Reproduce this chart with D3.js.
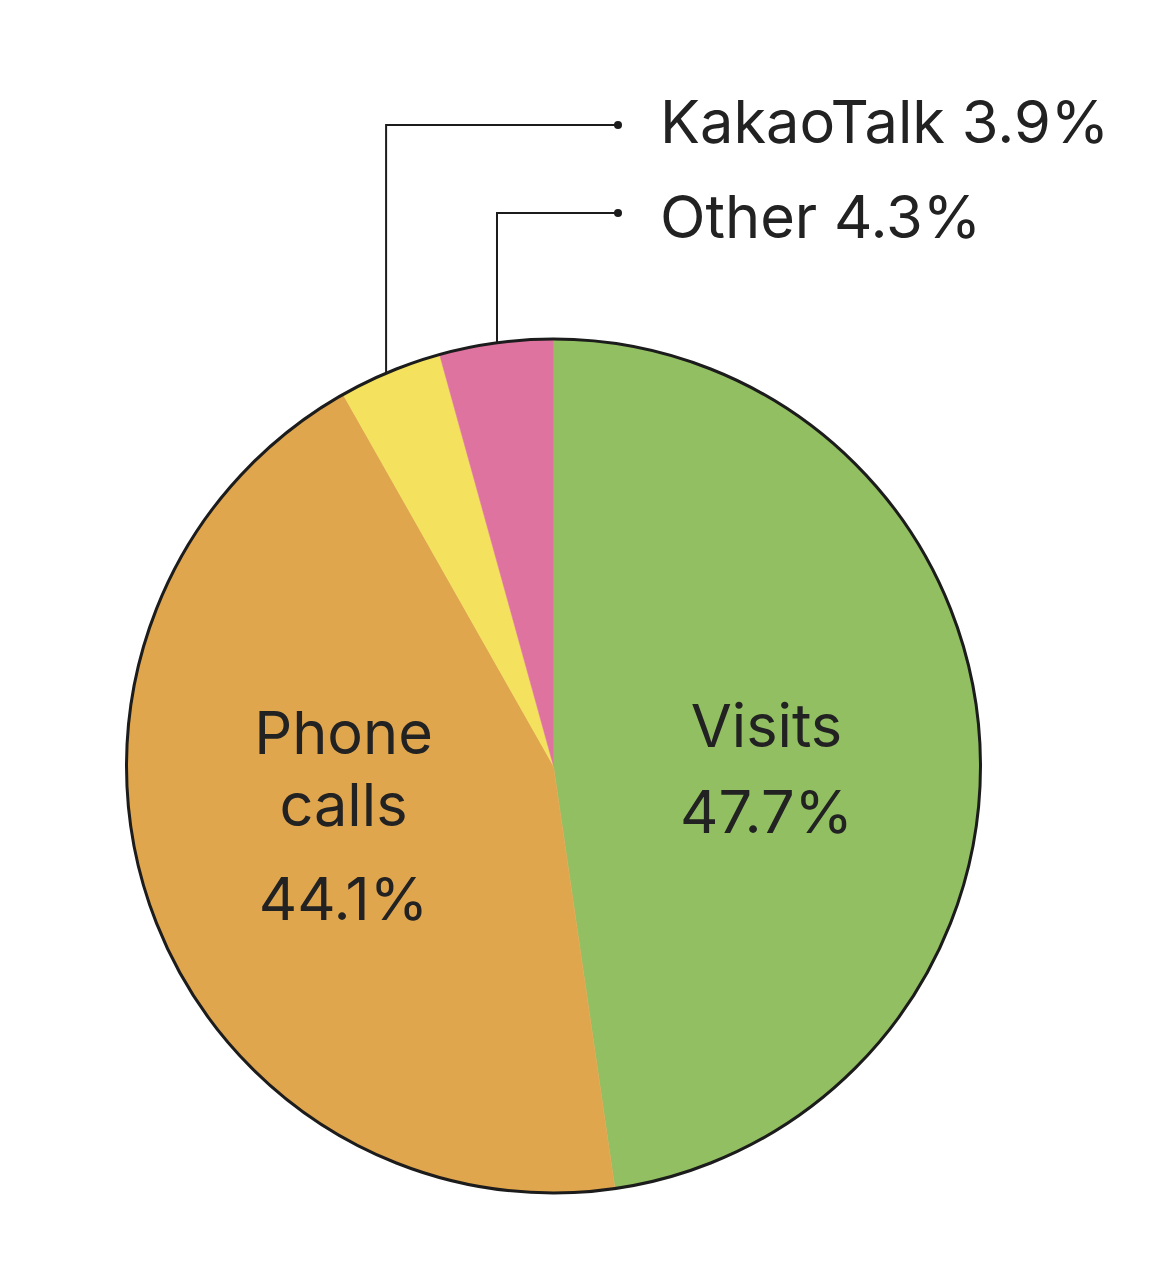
<!DOCTYPE html>
<html>
<head>
<meta charset="utf-8">
<script src="https://cdn.jsdelivr.net/npm/d3@7"></script>
<style>
  body { margin: 0; background: #fff; }
  text { font-family: Inter, Roboto, "Noto Sans", sans-serif; fill: #222; }
</style>
</head>
<body>
<div class="container"></div>
<script>
var categories = ['Visits', 'Phone calls', 'KakaoTalk', 'Other'];
var shares = [47.7, 44.1, 3.9, 4.3];
var colors = ['#92bf62', '#e0a64e', '#f4e25e', '#df739f'];
var shareLabels = ['47.7%', '44.1%', '3.9%', '4.3%'];

var drawChart = function () {
    const WIDTH = 1176;
    const HEIGHT = 1268;
    const CX = 553.5;
    const CY = 766;
    const RADIUS = 427;
    const FONT = '59.5px';

    var svg = d3.select('.container')
        .append('svg')
        .attr('width', WIDTH)
        .attr('height', HEIGHT);

    var pie = d3.pie().sort(null).value(function (d) { return d; });
    var arcs = pie(shares);
    var arc = d3.arc().innerRadius(0).outerRadius(RADIUS);

    var g = svg.append('g').attr('transform', 'translate(' + CX + ',' + CY + ')');

    g.selectAll('path.slice')
        .data(arcs)
        .enter()
        .append('path')
        .attr('class', 'slice')
        .attr('d', arc)
        .style('fill', function (d, i) { return colors[i]; })
        .style('stroke', function (d, i) { return colors[i]; })
        .style('stroke-width', 0.5);

    g.append('circle')
        .attr('r', RADIUS)
        .style('fill', 'none')
        .style('stroke', '#1c1c1c')
        .style('stroke-width', 3);

    // labels inside the big slices
    var inside = [
        { i: 0, x: 213, lines: [['Visits', -19], [null, 67]] },
        { i: 1, x: -210, lines: [['Phone', -12], ['calls', 60], [null, 154]] }
    ];
    inside.forEach(function (o) {
        o.lines.forEach(function (l) {
            g.append('text')
                .attr('x', o.x)
                .attr('y', l[1])
                .attr('text-anchor', 'middle')
                .style('font-size', FONT)
                .text(l[0] === null ? shareLabels[o.i] : l[0]);
        });
    });

    // leader lines for the small slices
    var callouts = [
        { i: 2, y: 125 - CY, baseline: 143 - CY, nudge: -4 },
        { i: 3, y: 213 - CY, baseline: 238 - CY, nudge: 1 }
    ];
    const DOT_X = 618 - CX;
    callouts.forEach(function (c) {
        var a = (arcs[c.i].startAngle + arcs[c.i].endAngle) / 2;
        var x = RADIUS * Math.sin(a) + c.nudge;
        var yEdge = -Math.sqrt(RADIUS * RADIUS - x * x);
        g.append('path')
            .attr('d', 'M' + x + ',' + yEdge + 'V' + c.y + 'H' + DOT_X)
            .style('fill', 'none')
            .style('stroke', '#1c1c1c')
            .style('stroke-width', 2);
        g.append('circle')
            .attr('cx', DOT_X)
            .attr('cy', c.y)
            .attr('r', 4)
            .style('fill', '#1c1c1c');
        g.append('text')
            .attr('x', 660 - CX)
            .attr('y', c.baseline)
            .style('font-size', FONT)
            .text(categories[c.i] + ' ' + shareLabels[c.i]);
    });
};
window.onload = drawChart;
</script>
</body>
</html>
